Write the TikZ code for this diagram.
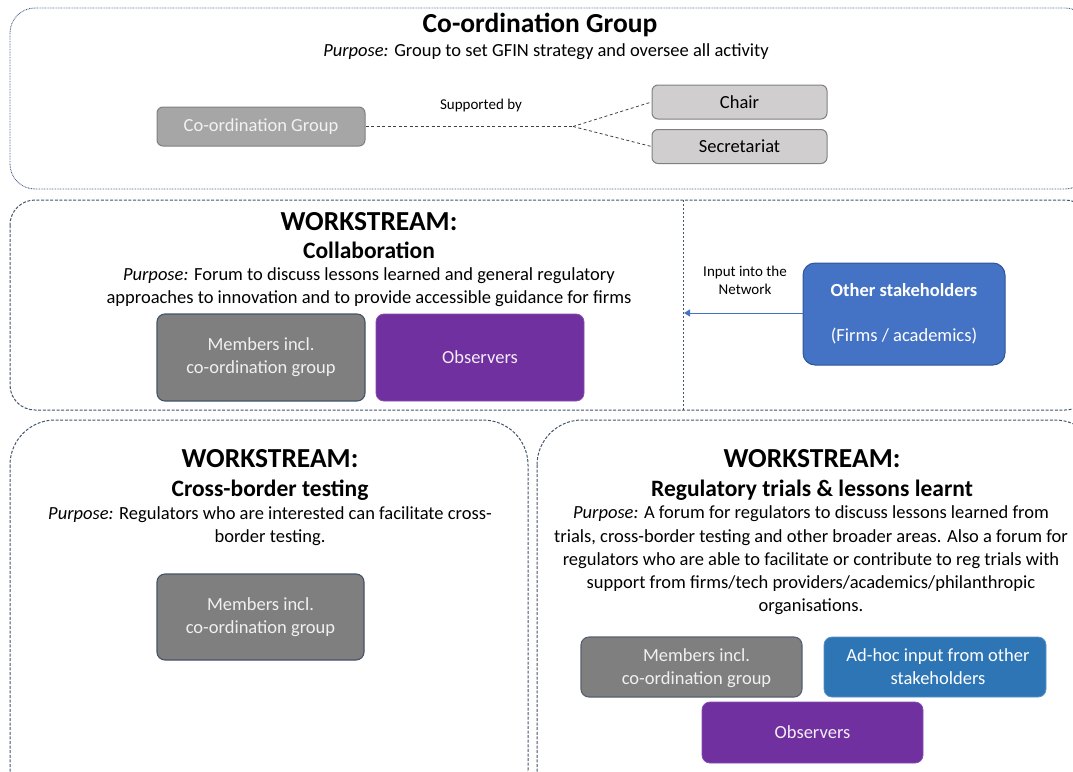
\documentclass[tikz,border=0pt]{standalone}
\usepackage{fontspec}
\setmainfont{Carlito}
\usetikzlibrary{arrows.meta}
\definecolor{framec}{HTML}{44546A}
\definecolor{dotc}{HTML}{4F6488}
\definecolor{cgfill}{HTML}{A6A6A6}
\definecolor{cgdraw}{HTML}{808080}
\definecolor{supfill}{HTML}{D0CECE}
\definecolor{memfill}{HTML}{7F7F7F}
\definecolor{obsfill}{HTML}{7030A0}
\definecolor{osfill}{HTML}{4472C4}
\definecolor{osdraw}{HTML}{2F5597}
\definecolor{adfill}{HTML}{2E75B6}
\definecolor{arrowc}{HTML}{4472C4}
\tikzset{
  bigtitle/.style={font=\fontsize{27.5}{32}\selectfont\bfseries},
  subtitle/.style={font=\fontsize{23.5}{28}\selectfont\bfseries},
  purpose/.style={font=\fontsize{18.5}{23.2}\selectfont, align=center},
  smalltext/.style={font=\fontsize{15}{17.5}\selectfont, align=center},
  boxtext/.style={font=\fontsize{18.5}{23}\selectfont, align=center},
  cgbox/.style={draw=cgdraw, fill=cgfill, line width=1pt, rounded corners=6pt, text=white!90!gray, boxtext, inner sep=0pt},
  supbox/.style={draw=cgdraw, fill=supfill, line width=1pt, rounded corners=6pt, text=black, boxtext, inner sep=0pt, minimum width=175pt, minimum height=34pt},
  membox/.style={draw=framec, fill=memfill, line width=1.1pt, rounded corners=8pt, text=white!88!gray, boxtext, inner sep=0pt},
  obsbox/.style={draw=obsfill!85!white, fill=obsfill, line width=0.8pt, rounded corners=8pt, text=white!92!obsfill, boxtext, inner sep=0pt},
  osbox/.style={draw=osdraw, fill=osfill, line width=1pt, rounded corners=12pt, text=white, boxtext, inner sep=0pt},
  adbox/.style={draw=adfill!80!white, fill=adfill, line width=0.8pt, rounded corners=8pt, text=white, boxtext, inner sep=0pt},
  dottedframe/.style={draw=dotc, line width=0.9pt, dash pattern=on 0.8pt off 0.8pt},
  dashframe/.style={draw=framec, line width=1pt, dash pattern=on 3pt off 1.6pt},
  supline/.style={draw=black!75, line width=0.8pt, dash pattern=on 3pt off 2.5pt},
}
\begin{document}
\begin{tikzpicture}[x=1pt,y=-1pt]
\useasboundingbox (0,0) rectangle (1073,771);
\clip (0,0) rectangle (1073,771);
% frames
\draw[dottedframe, rounded corners=25pt] (10,8) rectangle (1090,189);
\draw[dashframe, rounded corners=25pt] (10,200) rectangle (1090,410);
\draw[framec, line width=0.9pt, dash pattern=on 2pt off 2pt] (683,200) -- (683,410);
\draw[dashframe, rounded corners=45pt] (10,420) rectangle (528,815);
\draw[dashframe, rounded corners=45pt] (537,420) rectangle (1100,815);

% coordination group
\node[bigtitle] (cgtitle) at (540,25) {Co-ordination Group};
\node[purpose] (cgpurp) at (546,52) {\textit{Purpose:} Group to set GFIN strategy and oversee all activity};
\node[cgbox, minimum width=208pt, minimum height=39pt] (cg) at (261,126.5) {Co-ordination Group};
\node[supbox] (chair) at (739.5,102) {Chair};
\node[supbox] (secr) at (739.5,146.5) {Secretariat};
\coordinate (junc) at (573,126.5);
\draw[supline] (cg.east) -- (junc);
\draw[supline] (junc) -- (chair.west);
\draw[supline] (junc) -- (secr.west);
\node[smalltext] (supby) at (481,105) {Supported by};

% collaboration
\node[bigtitle] (w1) at (369,222) {WORKSTREAM:};
\node[subtitle] (w1s) at (369,250) {Collaboration};
\node[purpose] (w1p) at (369,287.5) {\textit{Purpose:} Forum to discuss lessons learned and general regulatory\\approaches to innovation and to provide accessible guidance for firms};
\node[membox, minimum width=208pt, minimum height=87pt] (mem1) at (261,357.5) {Members incl.\\co-ordination group};
\node[obsbox, minimum width=208pt, minimum height=87pt] (obs1) at (480,357.5) {Observers};
\node[osbox, minimum width=202pt, minimum height=102pt] (os) at (904,314) {{\bfseries Other stakeholders}\\[22pt](Firms / academics)};
\coordinate (div) at (684,313);
\draw[arrowc, line width=1pt, -{Triangle[width=7pt,length=6pt]}] (os.west |- div) -- (div);
\node[smalltext] (input) at (745,280.5) {Input into the\\Network};

% cross-border testing
\node[bigtitle] (w2) at (270,459) {WORKSTREAM:};
\node[subtitle] (w2s) at (270,490) {Cross-border testing};
\node[purpose] (w2p) at (270,526.5) {\textit{Purpose:} Regulators who are interested can facilitate cross-\\border testing.};
\node[membox, minimum width=207pt, minimum height=86pt] (mem2) at (260.5,617) {Members incl.\\co-ordination group};

% regulatory trials
\node[bigtitle] (w3) at (812,459) {WORKSTREAM:};
\node[subtitle] (w3s) at (812,490) {Regulatory trials \& lessons learnt};
\node[purpose] (w3p) at (811,560.5) {\textit{Purpose:} A forum for regulators to discuss lessons learned from\\trials, cross-border testing and other broader areas. Also a forum for\\regulators who are able to facilitate or contribute to reg trials with\\support from firms/tech providers/academics/philanthropic\\organisations.};
\node[membox, draw=framec!70!gray, minimum width=221pt, minimum height=60pt, text depth=0pt] (mem3) at (691.5,667) {\hspace*{10pt}Members incl.\\\hspace*{10pt}co-ordination group};
\node[adbox, minimum width=222pt, minimum height=60pt] (adhoc) at (935,667) {\hspace*{6pt}Ad-hoc input from other\\\hspace*{6pt}stakeholders};
\node[obsbox, minimum width=221pt, minimum height=61pt] (obs3) at (812.5,732.5) {Observers};
\end{tikzpicture}
\end{document}
